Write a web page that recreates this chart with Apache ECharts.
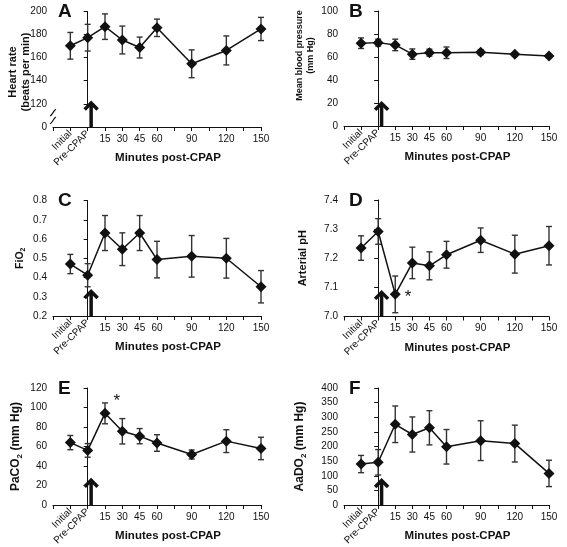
<!DOCTYPE html>
<html><head><meta charset="utf-8">
<script src="https://cdn.jsdelivr.net/npm/echarts@6/dist/echarts.min.js"></script>
<style>html,body{margin:0;padding:0;background:#fff}#c{width:567px;height:547px}</style>
</head><body><div id="c"></div>
<script>
// ---- data ----
const timePoints = [-15, 0, 15, 30, 45, 60, 90, 120, 150];
const specialTickLabels = {'-15': 'Initial', '0': 'Pre-CPAP'};
const numericTickLabels = [15, 30, 45, 60, 90, 120, 150];
const panelLetters = ['A', 'B', 'C', 'D', 'E', 'F'];

const heartRate      = [170, 177, 186.5, 175, 168.5, 185.5, 154.5, 166, 184.5];
const heartRateErr   = [11.5, 11.5, 11, 12, 9, 7.5, 12, 12.5, 10];
const bloodPressure    = [72, 72.5, 70.5, 62.5, 63.8, 63.7, 64.2, 62.3, 60.8];
const bloodPressureErr = [4.6, 3, 5, 4.5, 3, 5, 2.2, 1.5, 1.5];
const fio2    = [0.47, 0.412, 0.631, 0.547, 0.631, 0.493, 0.51, 0.5, 0.352];
const fio2Err = [0.05, 0.06, 0.091, 0.085, 0.091, 0.095, 0.108, 0.103, 0.084];
const ph    = [7.235, 7.292, 7.076, 7.184, 7.174, 7.212, 7.262, 7.214, 7.243];
const phErr = [0.042, 0.044, 0.063, 0.054, 0.048, 0.046, 0.042, 0.065, 0.066];
const paco2    = [64, 56, 94, 75.6, 70.6, 63.6, 51.8, 65.5, 58];
const paco2Err = [7.3, 7, 10.7, 13, 7.8, 8.5, 4.6, 11.7, 11.5];
const aado2    = [140, 146, 276, 241, 264, 199, 220, 210, 108];
const aado2Err = [29.5, 43.5, 62.5, 60, 58.5, 59, 68, 63, 45];

// CPAP start arrow: x position (min) and tip value for each panel
const arrowX = 3;
const arrowTips = [122, 21, 0.335, 7.088, 27, 89];
// significance stars: [panel index, point index]
const stars = [[3, 2], [4, 2]];
// heart-rate axis break (0 .. 120)
const heartRateBreak = {start: 0, end: 120, gap: 20};

// ---- layout / style ----
const FONT = '"Liberation Sans", Arial, sans-serif';
const INK = '#111';
const grids = [
  {left: 53, top: 11, width: 208, height: 116},
  {left: 344, top: 11, width: 205, height: 115},
  {left: 53, top: 200.5, width: 208, height: 115.5},
  {left: 344, top: 200, width: 205, height: 116.5},
  {left: 53, top: 388, width: 208, height: 117},
  {left: 344, top: 388, width: 205, height: 117}
];
function subRich(size) {
  return {
    t: {fontFamily: FONT, fontWeight: 'bold', fontSize: size, color: INK},
    s: {fontFamily: FONT, fontWeight: 'bold', fontSize: Math.round(size * 0.7), color: INK, padding: [Math.round(size * 0.6), 0, 0, 0]}
  };
}
const panels = [
  {mean: heartRate, err: heartRateErr, min: 0, max: 200, interval: 20, brk: heartRateBreak,
   name: 'Heart rate\n(beats per min)', nameGap: 20.5, nameSize: 11, namePad: [0, 6, 0, 0], fmt: v => String(v)},
  {mean: bloodPressure, err: bloodPressureErr, min: 0, max: 100, interval: 20,
   name: 'Mean blood pressure\n(mm Hg)', nameGap: 28, nameSize: 9, namePad: [0, 0, 0, 26], fmt: v => String(v)},
  {mean: fio2, err: fio2Err, min: 0.2, max: 0.8, interval: 0.1,
   name: '{t|FiO}{s|2}', nameGap: 27, nameSize: 10.5, namePad: [0, 0, 0, 0], fmt: v => v.toFixed(1)},
  {mean: ph, err: phErr, min: 7.0, max: 7.4, interval: 0.1,
   name: 'Arterial pH', nameGap: 35, nameSize: 11, namePad: [0, 0, 0, 0], fmt: v => v.toFixed(1)},
  {mean: paco2, err: paco2Err, min: 0, max: 120, interval: 20,
   name: '{t|PaCO}{s|2}{t| (mm Hg)}', nameGap: 30, nameSize: 12, namePad: [0, 0, 0, 0], fmt: v => String(v)},
  {mean: aado2, err: aado2Err, min: 0, max: 400, interval: 50,
   name: '{t|AaDO}{s|2}{t| (mm Hg)}', nameGap: 37, nameSize: 12, namePad: [0, 0, 0, 0], fmt: v => String(v)}
];

const option = {
  animation: false,
  backgroundColor: '#fff',
  textStyle: {fontFamily: FONT},
  title: [], grid: [], xAxis: [], yAxis: [], series: []
};

panels.forEach((p, i) => {
  const g = grids[i];
  option.grid.push(Object.assign({outerBoundsMode: 'none', containLabel: false}, g));
  option.title.push({
    text: panelLetters[i], left: g.left + 5, top: g.top - 9, padding: 0,
    textStyle: {fontFamily: FONT, fontWeight: 'bold', fontSize: 19, color: INK}
  });
  // main x axis: numeric labels
  option.xAxis.push({
    type: 'value', gridIndex: i, min: -30, max: 150, interval: 15,
    axisLine: {show: true, onZero: false, lineStyle: {color: INK, width: 1}},
    axisTick: {show: true, length: 4, lineStyle: {color: INK}},
    splitLine: {show: false},
    axisLabel: {show: true, fontSize: 10, color: INK, margin: 7, fontFamily: FONT,
      formatter: v => numericTickLabels.includes(v) ? String(v) : ''},
    name: 'Minutes post-CPAP', nameLocation: 'middle', nameGap: 25, nameMoveOverlap: false,
    nameTextStyle: {fontFamily: FONT, fontWeight: 'bold', fontSize: 11.5, color: INK, padding: [0, 0, 0, 22]}
  });
  // secondary x axis: rotated text labels
  option.xAxis.push({
    type: 'value', gridIndex: i, min: -30, max: 150, interval: 15, position: 'bottom',
    axisLine: {show: false}, axisTick: {show: false}, splitLine: {show: false},
    axisLabel: {show: true, rotate: 45, fontSize: 10, color: INK, margin: 5, fontFamily: FONT,
      formatter: v => specialTickLabels[String(v)] || ''}
  });
  const ya = {
    type: 'value', gridIndex: i, min: p.min, max: p.max, interval: p.interval,
    axisLine: {show: true, lineStyle: {color: INK, width: 1}},
    axisTick: {show: true, length: 4, lineStyle: {color: INK}},
    splitLine: {show: false},
    axisLabel: {fontSize: 10, color: INK, margin: 6, fontFamily: FONT, formatter: p.fmt},
    name: p.name, nameLocation: 'middle', nameGap: p.nameGap, nameRotate: 90, nameMoveOverlap: false,
    nameTextStyle: {fontFamily: FONT, fontWeight: 'bold', fontSize: p.nameSize, color: INK,
      lineHeight: p.nameSize + 2, padding: p.namePad, rich: subRich(p.nameSize)}
  };
  if (p.brk) {
    ya.breaks = [{start: p.brk.start, end: p.brk.end, gap: p.brk.gap}];
    ya.breakArea = {show: false};
  }
  option.yAxis.push(ya);

  const xi = i * 2, yi = i;
  const lineData = timePoints.map((t, k) => {
    const item = {value: [t, p.mean[k]]};
    stars.forEach(s => {
      if (s[0] === i && s[1] === k) {
        item.label = {show: true, formatter: '*', position: 'right', fontSize: 17, color: INK,
          fontFamily: FONT, offset: i === 3 ? [-1, 3] : [-2, -12]};
      }
    });
    return item;
  });
  // error bars
  option.series.push({
    type: 'custom', xAxisIndex: xi, yAxisIndex: yi, z: 2,
    data: timePoints.map((t, k) => [t, p.mean[k] - p.err[k], p.mean[k] + p.err[k]]),
    renderItem: (params, api) => {
      const lo = api.coord([api.value(0), api.value(1)]);
      const hi = api.coord([api.value(0), api.value(2)]);
      const w = 3;
      const st = {stroke: '#333', lineWidth: 1.4};
      return {type: 'group', children: [
        {type: 'line', shape: {x1: hi[0], y1: hi[1], x2: lo[0], y2: lo[1]}, style: st},
        {type: 'line', shape: {x1: hi[0] - w, y1: hi[1], x2: hi[0] + w, y2: hi[1]}, style: st},
        {type: 'line', shape: {x1: lo[0] - w, y1: lo[1], x2: lo[0] + w, y2: lo[1]}, style: st}
      ]};
    }
  });
  option.series.push({
    type: 'line', xAxisIndex: xi, yAxisIndex: yi, z: 3,
    data: lineData, symbol: 'diamond', symbolSize: 11,
    itemStyle: {color: INK}, lineStyle: {color: INK, width: 1.5},
    label: {show: false}
  });
  // CPAP arrow
  option.series.push({
    type: 'custom', xAxisIndex: xi, yAxisIndex: yi, z: 4, clip: false,
    data: [[arrowX, p.min, arrowTips[i]]],
    renderItem: (params, api) => {
      const base = api.coord([api.value(0), api.value(1)]);
      const tip = api.coord([api.value(0), api.value(2)]);
      const st = {stroke: INK, lineWidth: 3.5, fill: null};
      return {type: 'group', children: [
        {type: 'line', shape: {x1: base[0], y1: base[1], x2: tip[0], y2: tip[1] + 2}, style: st},
        {type: 'polyline', shape: {points: [[tip[0] - 6.5, tip[1] + 8], [tip[0], tip[1] + 1.5], [tip[0] + 6.5, tip[1] + 8]]},
          style: {stroke: INK, lineWidth: 3.5, fill: null, lineJoin: 'miter'}}
      ]};
    }
  });
  // axis-break marks on the y axis
  if (p.brk) {
    option.series.push({
      type: 'custom', xAxisIndex: xi, yAxisIndex: yi, z: 5, clip: false,
      data: [[-30, p.brk.start, p.brk.end]],
      renderItem: (params, api) => {
        const b = api.coord([api.value(0), api.value(1)]);
        const t = api.coord([api.value(0), api.value(2)]);
        const x = b[0];
        const span = b[1] - t[1];
        const y1 = t[1] + span * 0.38, y2 = t[1] + span * 0.72;
        const mk = y => ({type: 'bezierCurve',
          shape: {x1: x - 3, y1: y + 3, x2: x + 3, y2: y - 3, cpx1: x - 1, cpy1: y + 4, cpx2: x + 1, cpy2: y - 4},
          style: {stroke: INK, lineWidth: 1.2, fill: null}});
        return {type: 'group', children: [
          {type: 'rect', shape: {x: x - 1.5, y: y1 - 1, width: 3, height: y2 - y1 + 2}, style: {fill: '#fff'}},
          mk(y1), mk(y2)
        ]};
      }
    });
  }
});

const chart = echarts.init(document.getElementById('c'));
chart.setOption(option);
</script>
</body></html>
